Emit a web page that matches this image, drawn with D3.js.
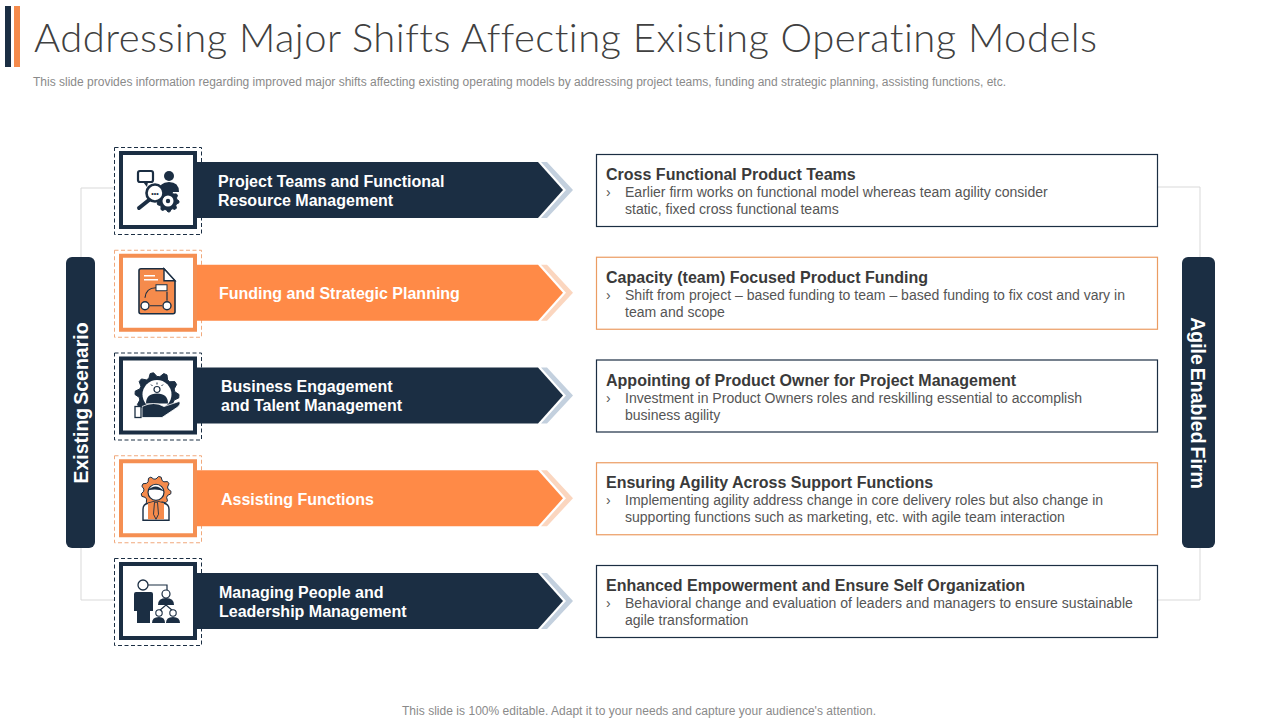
<!DOCTYPE html>
<html>
<head>
<meta charset="utf-8">
<script src="https://cdn.jsdelivr.net/npm/d3@7"></script>
<style>
  html, body { margin: 0; padding: 0; background: #fff; }
  svg { display: block; font-family: "Liberation Sans", Arial, sans-serif; }
</style>
</head>
<body>
<svg id="chart" width="1280" height="720"></svg>
<script>
const titleText = 'Addressing Major Shifts Affecting Existing Operating Models';
const subtitleText = 'This slide provides information regarding improved major shifts affecting existing operating models by addressing project teams, funding and strategic planning, assisting functions, etc.';
const footerText = "This slide is 100% editable. Adapt it to your needs and capture your audience's attention.";

const rows = [0, 1, 2, 3, 4];
const barLabels = [
  ['Project Teams and Functional', 'Resource Management'],
  ['Funding and Strategic Planning'],
  ['Business Engagement', 'and Talent Management'],
  ['Assisting Functions'],
  ['Managing People and', 'Leadership Management']
];
const barLabelX = [218, 219, 221, 221, 219];
const headings = [
  'Cross Functional Product Teams',
  'Capacity (team) Focused Product Funding',
  'Appointing of Product Owner for Project Management',
  'Ensuring Agility Across Support Functions',
  'Enhanced Empowerment and Ensure Self Organization'
];
const details = [
  ['Earlier firm works on functional model whereas team agility consider', 'static, fixed cross functional teams'],
  ['Shift from project \u2013 based funding to team \u2013 based funding to fix cost and vary in', 'team and scope'],
  ['Investment in Product Owners roles and reskilling essential to accomplish', 'business agility'],
  ['Implementing agility address change in core delivery roles but also change in', 'supporting functions such as marketing, etc. with agile team interaction'],
  ['Behavioral change and evaluation of leaders and managers to ensure sustainable', 'agile transformation']
];

const navy = '#1b2e43';
const orange = '#ff8a47';
const tones = [
  { main: navy, frame: navy, soft: '#c3d0de', box: navy, dash: navy },
  { main: orange, frame: '#f58f52', soft: '#fbd6bf', box: '#eb9c62', dash: '#f0a97c' }
];

const svg = d3.select('#chart');
const rowY = d3.scalePoint().domain(rows).range([190, 601]);
const boxY = d3.scalePoint().domain(rows).range([191.5, 602.5]);
const tone = i => tones[i % 2];

// header
svg.append('rect').attr('x', 5).attr('y', 6).attr('width', 6).attr('height', 61).attr('fill', navy);
svg.append('rect').attr('x', 14).attr('y', 6).attr('width', 6).attr('height', 61).attr('fill', '#f58b4c');
svg.append('text').attr('x', 34).attr('y', 52).text(titleText)
  .style('font-family', 'Lato').style('font-weight', 300).style('font-size', '40px')
  .style('font-variant-ligatures', 'none')
  .attr('textLength', 1063).attr('fill', '#404040');
svg.append('text').attr('x', 33).attr('y', 86).text(subtitleText)
  .style('font-size', '12px').attr('textLength', 973).attr('fill', '#8a8a8a');
svg.append('text').attr('x', 402).attr('y', 715).text(footerText)
  .style('font-size', '12px').attr('textLength', 474).attr('fill', '#8a8a8a');

// connectors behind everything else
const connector = d3.line();
[[[114, 188], [81, 188], [81, 600], [114, 600]], [[1158, 187], [1200, 187], [1200, 600], [1158, 600]]]
  .forEach(p => svg.append('path').attr('d', connector(p)).attr('fill', 'none').attr('stroke', '#d9d9d9').attr('stroke-width', 1));

// side pills
const pills = [
  { x: 66, w: 29, label: 'Existing Scenario', rot: -90, tx: 87.5 },
  { x: 1182, w: 33, label: 'Agile Enabled Firm', rot: 90, tx: 1190.5 }
];
pills.forEach(p => {
  svg.append('rect').attr('x', p.x).attr('y', 257).attr('width', p.w).attr('height', 291).attr('rx', 6).attr('fill', navy);
  svg.append('text').attr('transform', `translate(${p.tx},403) rotate(${p.rot})`)
    .attr('text-anchor', 'middle').attr('fill', '#fff')
    .style('font-size', '19.5px').style('font-weight', 700).style('word-spacing', '-2.5px').text(p.label);
});

const row = svg.selectAll('g.row').data(rows).join('g')
  .attr('class', 'row').attr('transform', i => `translate(0,${rowY(i)})`);

// dashed frame sits under the bar
row.append('rect').attr('x', 114.5).attr('y', -42.5).attr('width', 87).attr('height', 87)
  .attr('fill', '#fff').attr('stroke', i => tone(i).dash).attr('stroke-width', 1).attr('stroke-dasharray', '4 2.5');

// back chevron + arrow bar
row.append('path').attr('fill', i => tone(i).soft)
  .attr('d', 'M541,-28 L547,-28 L573,0 L547,28 L541,28 L566,0 Z');
row.append('path').attr('fill', i => tone(i).main)
  .attr('d', 'M190,-28 L538,-28 L563,0 L538,28 L190,28 Z');

// solid icon frame
row.append('rect').attr('x', 121).attr('y', -37).attr('width', 74).attr('height', 74)
  .attr('fill', '#fff').attr('stroke', i => tone(i).frame).attr('stroke-width', 4);

// bar labels
row.each(function (i) {
  const lines = barLabels[i];
  const g = d3.select(this);
  lines.forEach((t, k) => {
    g.append('text').attr('x', barLabelX[i])
      .attr('y', lines.length === 1 ? 6.5 : -3.5 + k * 19)
      .attr('fill', '#fff').style('font-size', '16px').style('font-weight', 700).text(t);
  });
});

// right boxes
const card = svg.selectAll('g.card').data(rows).join('g')
  .attr('class', 'card').attr('transform', i => `translate(0,${boxY(i)})`);
card.append('rect').attr('x', 596.5).attr('y', -37).attr('width', 561).attr('height', 72)
  .attr('fill', '#fff').attr('stroke', i => tone(i).box).attr('stroke-width', 1.2);
card.append('text').attr('x', 606).attr('y', -11.5).attr('fill', '#3a3a3a')
  .style('font-size', '16.03px').style('font-weight', 700).text(i => headings[i]);
card.append('text').attr('x', 606).attr('y', 5.5).attr('fill', '#555').style('font-size', '14px').text('\u203a');
card.each(function (i) {
  const g = d3.select(this);
  details[i].forEach((t, k) => {
    g.append('text').attr('x', 625).attr('y', 5.5 + k * 17).attr('fill', '#555').style('font-size', '14.04px').text(t);
  });
});

// icons, drawn around the frame centre
const icon = (i) => d3.select(row.nodes()[i]).append('g').attr('transform', 'translate(158,0)');
const dark = '#1b2e43';

function gear(g, cx, cy, r, fill, teeth) {
  const pts = [];
  const n = teeth * 4;
  for (let k = 0; k < n; k++) {
    const a = (k / n) * 2 * Math.PI;
    const rr = k % 4 < 2 ? r : r * 0.82;
    pts.push([cx + rr * Math.cos(a), cy + rr * Math.sin(a)]);
  }
  g.append('path').attr('d', d3.line().curve(d3.curveLinearClosed)(pts)).attr('fill', fill).attr('stroke', dark).attr('stroke-width', 1);
}

function person(g, cx, headY, headR, w, bottom, fill) {
  if (headR) g.append('circle').attr('cx', cx).attr('cy', headY).attr('r', headR).attr('fill', fill);
  g.append('path').attr('fill', fill)
    .attr('d', `M${cx - w},${bottom} Q${cx - w},${headY + headR + 1} ${cx},${headY + headR + 1} Q${cx + w},${headY + headR + 1} ${cx + w},${bottom} Z`);
}

// 0: search and team
{
  const g = icon(0);
  g.append('rect').attr('x', -20).attr('y', -19).attr('width', 15).attr('height', 11).attr('rx', 2).attr('fill', '#fff').attr('stroke', dark).attr('stroke-width', 2.2);
  g.append('path').attr('d', 'M-15,-8 L-11,-3 L-10,-8 Z').attr('fill', dark);
  person(g, 11, -14, 5, 10, 2, dark);
  gear(g, 10, 11, 11, dark, 9);
  g.append('circle').attr('cx', 10).attr('cy', 11).attr('r', 5.5).attr('fill', '#fff');
  g.append('circle').attr('cx', 10).attr('cy', 11).attr('r', 2.2).attr('fill', dark);
  g.append('circle').attr('cx', -3).attr('cy', 3).attr('r', 8.5).attr('fill', '#fff').attr('stroke', dark).attr('stroke-width', 2.6);
  g.append('line').attr('x1', -9).attr('y1', 10).attr('x2', -19).attr('y2', 18).attr('stroke', dark).attr('stroke-width', 4).attr('stroke-linecap', 'round');
  g.append('text').attr('x', -3).attr('y', 6).attr('text-anchor', 'middle').attr('fill', dark).style('font-size', '7px').style('font-weight', 700).text('\u2022\u2022\u2022');
}
// 1: document flow
{
  const g = icon(1);
  g.append('path').attr('d', 'M-19,-22 Q-19,-24 -17,-24 L6,-24 L17,-12 L17,19 Q17,21 15,21 L-17,21 Q-19,21 -19,19 Z').attr('fill', '#f58b4c').attr('stroke', dark).attr('stroke-width', 1.6);
  g.append('path').attr('d', 'M6,-24 L6,-12 L17,-12 Z').attr('fill', '#fff').attr('stroke', dark).attr('stroke-width', 1.4);
  g.append('path').attr('d', 'M-14,-17 H-3 M-14,-13 H0').attr('stroke', '#fff').attr('stroke-width', 1.5);
  g.append('rect').attr('x', -2).attr('y', -8).attr('width', 11).attr('height', 6).attr('fill', '#fff').attr('stroke', dark).attr('stroke-width', 1);
  g.append('circle').attr('cx', -13).attr('cy', 13).attr('r', 4).attr('fill', '#fff').attr('stroke', dark).attr('stroke-width', 1.4);
  g.append('circle').attr('cx', 9).attr('cy', 13).attr('r', 4).attr('fill', '#fff').attr('stroke', dark).attr('stroke-width', 1.4);
  g.append('path').attr('d', 'M-8,13 H4 M9,8 V-1 M-2,-5 Q-12,-5 -13,5').attr('fill', 'none').attr('stroke', dark).attr('stroke-width', 1.2);
}
// 2: gear, bulb and hand
{
  const g = icon(2);
  gear(g, -1, -1, 22, dark, 10);
  g.append('circle').attr('cx', -1).attr('cy', -1).attr('r', 14.5).attr('fill', '#fff');
  g.append('circle').attr('cx', -1).attr('cy', -6).attr('r', 3).attr('fill', '#fff').attr('stroke', dark).attr('stroke-width', 1.2);
  g.append('path').attr('d', 'M-1,-13 V-11 M-7,-11 L-5.5,-9.5 M5,-11 L3.5,-9.5').attr('stroke', dark).attr('stroke-width', 1);
  person(g, -1, -3, 0, 11, 8, dark);
  g.append('path').attr('d', 'M-16,11 Q-4,5 6,11 L21,6 Q24,8 19,12 L4,22 L-16,22 Z').attr('fill', dark).attr('stroke', '#fff').attr('stroke-width', 0.8);
  g.append('rect').attr('x', -23).attr('y', 11).attr('width', 6).attr('height', 11).attr('fill', '#fff').attr('stroke', dark).attr('stroke-width', 1.3);
}
// 3: person with gear
{
  const g = icon(3);
  gear(g, -2, -7, 15, '#f58b4c', 9);
  g.append('circle').attr('cx', -2).attr('cy', -6).attr('r', 8).attr('fill', '#fff').attr('stroke', dark).attr('stroke-width', 1.2);
  g.append('path').attr('d', 'M-10,-8 Q-2,-16 6,-7 Q-1,-10 -10,-8 Z').attr('fill', dark);
  g.append('path').attr('d', 'M-15,22 L-15,11 Q-15,6 -10,5 L-2,3 L6,5 Q11,6 11,11 L11,22 Z').attr('fill', '#fff').attr('stroke', dark).attr('stroke-width', 1.4);
  g.append('path').attr('d', 'M-10,5 L-2,3 L6,5 L6,21 L-10,21 Z').attr('fill', '#f58b4c');
  g.append('path').attr('d', 'M-3.5,4 L-0.5,4 L0.5,16 L-2,21 L-4.5,16 Z').attr('fill', '#f58b4c').attr('stroke', dark).attr('stroke-width', 0.9);
}
// 4: org tree
{
  const g = icon(4);
  g.append('path').attr('d', 'M-10,-16 H9 V-11').attr('fill', 'none').attr('stroke', dark).attr('stroke-width', 1.2);
  g.append('circle').attr('cx', -15).attr('cy', -16).attr('r', 5).attr('fill', '#fff').attr('stroke', dark).attr('stroke-width', 1.3);
  g.append('path').attr('d', 'M-24,-7 Q-24,-9 -22,-9 L-7,-9 Q-5,-9 -5,-7 L-5,10 L-8,10 L-8,22 L-21,22 L-21,10 L-24,10 Z').attr('fill', dark);
  g.append('circle').attr('cx', 8).attr('cy', -7).attr('r', 4).attr('fill', '#fff').attr('stroke', dark).attr('stroke-width', 1.2);
  g.append('path').attr('d', 'M0,4 Q0,-3 8,-3 Q16,-3 16,4 Z').attr('fill', dark);
  g.append('path').attr('d', 'M8,4 L1,10 M8,4 L15,10').attr('stroke', dark).attr('stroke-width', 1.1);
  g.append('circle').attr('cx', 1).attr('cy', 12).attr('r', 3.2).attr('fill', '#fff').attr('stroke', dark).attr('stroke-width', 1.1);
  g.append('circle').attr('cx', 15).attr('cy', 12).attr('r', 3.2).attr('fill', '#fff').attr('stroke', dark).attr('stroke-width', 1.1);
  g.append('path').attr('d', 'M-6,22 Q-6,16 1,16 Q7,16 7,22 Z M8,22 Q8,16 15,16 Q22,16 22,22 Z').attr('fill', dark);
}
</script>
</body>
</html>
